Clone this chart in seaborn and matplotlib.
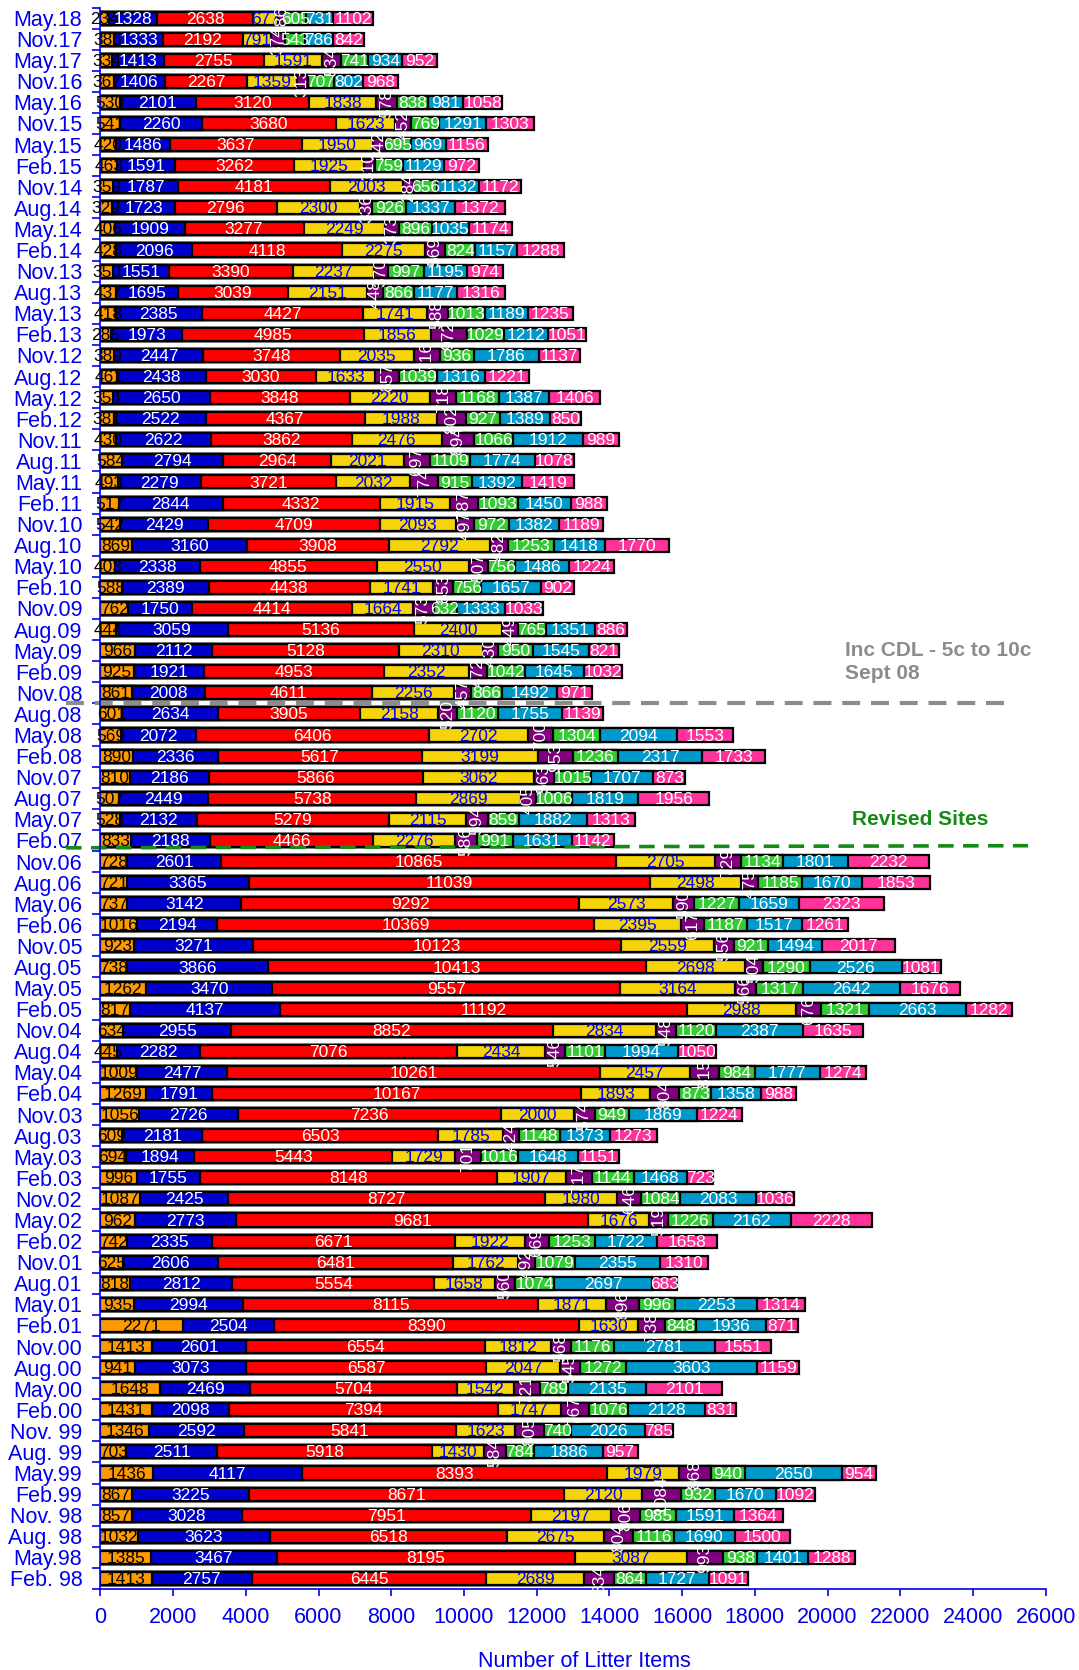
import matplotlib
matplotlib.use("Agg")
import matplotlib.pyplot as plt
import pandas as pd
import seaborn as sns

# survey dates, top row first
dates = ["May.18", "Nov.17", "May.17", "Nov.16", "May.16", "Nov.15", "May.15", "Feb.15", "Nov.14", "Aug.14",
         "May.14", "Feb.14", "Nov.13", "Aug.13", "May.13", "Feb.13", "Nov.12", "Aug.12", "May.12", "Feb.12",
         "Nov.11", "Aug.11", "May.11", "Feb.11", "Nov.10", "Aug.10", "May.10", "Feb.10", "Nov.09", "Aug.09",
         "May.09", "Feb.09", "Nov.08", "Aug.08", "May.08", "Feb.08", "Nov.07", "Aug.07", "May.07", "Feb.07",
         "Nov.06", "Aug.06", "May.06", "Feb.06", "Nov.05", "Aug.05", "May.05", "Feb.05", "Nov.04", "Aug.04",
         "May.04", "Feb.04", "Nov.03", "Aug.03", "May.03", "Feb.03", "Nov.02", "May.02", "Feb.02", "Nov.01",
         "Aug.01", "May.01", "Feb.01", "Nov.00", "Aug.00", "May.00", "Feb.00", "Nov. 99", "Aug. 99", "May.99",
         "Feb.99", "Nov. 98", "Aug. 98", "May.98", "Feb. 98"]

orange = [234, 386, 334, 367, 530, 541, 420, 463, 359, 329,
          406, 428, 350, 437, 418, 285, 389, 461, 354, 381,
          430, 584, 493, 517, 542, 869, 403, 588, 762, 444,
          966, 925, 861, 601, 569, 890, 810, 507, 528, 833,
          728, 721, 737, 1016, 923, 738, 1262, 817, 634, 445,
          1009, 1269, 1056, 609, 694, 996, 1087, 962, 742, 625,
          818, 935, 2271, 1413, 941, 1648, 1431, 1346, 703, 1436,
          867, 857, 1032, 1385, 1413]
blue = [1328, 1333, 1413, 1406, 2101, 2260, 1486, 1591, 1787, 1723,
        1909, 2096, 1551, 1695, 2385, 1973, 2447, 2438, 2650, 2522,
        2622, 2794, 2279, 2844, 2429, 3160, 2338, 2389, 1750, 3059,
        2112, 1921, 2008, 2634, 2072, 2336, 2186, 2449, 2132, 2188,
        2601, 3365, 3142, 2194, 3271, 3866, 3470, 4137, 2955, 2282,
        2477, 1791, 2726, 2181, 1894, 1755, 2425, 2773, 2335, 2606,
        2812, 2994, 2504, 2601, 3073, 2469, 2098, 2592, 2511, 4117,
        3225, 3028, 3623, 3467, 2757]
red = [2638, 2192, 2755, 2267, 3120, 3680, 3637, 3262, 4181, 2796,
       3277, 4118, 3390, 3039, 4427, 4985, 3748, 3030, 3848, 4367,
       3862, 2964, 3721, 4332, 4709, 3908, 4855, 4438, 4414, 5136,
       5128, 4953, 4611, 3905, 6406, 5617, 5866, 5738, 5279, 4466,
       10865, 11039, 9292, 10369, 10123, 10413, 9557, 11192, 8852, 7076,
       10261, 10167, 7236, 6503, 5443, 8148, 8727, 9681, 6671, 6481,
       5554, 8115, 8390, 6554, 6587, 5704, 7394, 5841, 5918, 8393,
       8671, 7951, 6518, 8195, 6445]
yellow = [677, 791, 1591, 1359, 1838, 1623, 1950, 1925, 2003, 2300,
          2249, 2275, 2237, 2151, 1741, 1856, 2035, 1633, 2220, 1988,
          2476, 2021, 2032, 1915, 2093, 2792, 2550, 1741, 1664, 2400,
          2310, 2352, 2256, 2158, 2702, 3199, 3062, 2869, 2115, 2276,
          2705, 2498, 2573, 2395, 2559, 2698, 3164, 2988, 2834, 2434,
          2457, 1893, 2000, 1785, 1729, 1907, 1980, 1676, 1922, 1762,
          1658, 1871, 1630, 1812, 2047, 1542, 1747, 1623, 1430, 1979,
          2120, 2197, 2675, 3087, 2689]
purple = [186, 374, 534, 313, 578, 452, 342, 310, 284, 336,
          373, 569, 370, 448, 588, 972, 716, 657, 718, 802,
          894, 697, 774, 787, 497, 482, 507, 553, 573, 449,
          430, 472, 457, 520, 700, 953, 563, 405, 594, 586,
          729, 475, 590, 617, 556, 504, 566, 676, 548, 546,
          815, 804, 574, 424, 701, 717, 646, 519, 669, 492,
          560, 896, 738, 568, 545, 721, 767, 805, 584, 868,
          1084, 806, 804, 993, 834]
green = [605, 543, 741, 707, 838, 769, 695, 759, 656, 926,
         896, 824, 997, 866, 1013, 1029, 936, 1039, 1168, 927,
         1066, 1109, 915, 1093, 972, 1253, 756, 756, 632, 765,
         950, 1042, 866, 1120, 1304, 1236, 1015, 1006, 859, 991,
         1134, 1185, 1227, 1187, 921, 1290, 1317, 1321, 1120, 1101,
         984, 873, 949, 1148, 1016, 1144, 1084, 1226, 1253, 1079,
         1074, 996, 848, 1176, 1272, 789, 1076, 740, 784, 940,
         932, 985, 1116, 938, 864]
cyan = [731, 786, 934, 802, 981, 1291, 969, 1129, 1132, 1337,
        1035, 1157, 1195, 1177, 1189, 1212, 1786, 1316, 1387, 1389,
        1912, 1774, 1392, 1450, 1382, 1418, 1486, 1657, 1333, 1351,
        1545, 1645, 1492, 1755, 2094, 2317, 1707, 1819, 1882, 1631,
        1801, 1670, 1659, 1517, 1494, 2526, 2642, 2663, 2387, 1994,
        1777, 1358, 1869, 1373, 1648, 1468, 2083, 2162, 1722, 2355,
        2697, 2253, 1936, 2781, 3603, 2135, 2128, 2026, 1886, 2650,
        1670, 1591, 1690, 1401, 1727]
pink = [1102, 842, 952, 968, 1058, 1303, 1156, 972, 1172, 1372,
        1174, 1288, 974, 1316, 1235, 1051, 1137, 1221, 1406, 850,
        989, 1078, 1419, 988, 1189, 1770, 1224, 902, 1033, 886,
        821, 1032, 971, 1139, 1553, 1733, 873, 1956, 1313, 1142,
        2232, 1853, 2323, 1261, 2017, 1081, 1676, 1282, 1635, 1050,
        1274, 988, 1224, 1273, 1151, 723, 1036, 2228, 1658, 1310,
        683, 1314, 871, 1551, 1159, 2101, 831, 785, 957, 954,
        1092, 1364, 1500, 1288, 1091]

segments = ['orange', 'blue', 'red', 'yellow', 'purple', 'green', 'cyan', 'pink']
fills = {'orange': '#FF9900', 'blue': '#0000CC', 'red': '#FF0000', 'yellow': '#F5D50A',
         'purple': '#800080', 'green': '#33CC33', 'cyan': '#0099CC', 'pink': '#FF3399'}
text_cols = {'orange': 'black', 'blue': 'white', 'red': 'white', 'yellow': '#0000FF',
             'purple': 'white', 'green': 'white', 'cyan': 'white', 'pink': 'white'}

df = pd.DataFrame({'date': dates, 'orange': orange, 'blue': blue, 'red': red, 'yellow': yellow,
                   'purple': purple, 'green': green, 'cyan': cyan, 'pink': pink})
cum = df[segments].cumsum(axis=1)

sns.set_style("white")
plt.rcParams['font.family'] = ['Liberation Sans', 'DejaVu Sans']
axis_blue = '#0000EE'

fig = plt.figure(figsize=(10.79, 16.70), dpi=100)
ax = fig.add_axes([0.093, 0.0485, 0.8762, 0.947])

# stacked bars: draw cumulative totals longest first so shorter ones sit on top
for seg in reversed(segments):
    sns.barplot(x=cum[seg], y=df['date'], order=dates, orient='h', color=fills[seg],
                saturation=1, edgecolor='black', linewidth=1.6, width=0.62,
                errorbar=None, ax=ax)

for i in range(len(dates)):
    for seg in segments:
        v = df[seg][i]
        mid = cum[seg][i] - v / 2
        ax.text(mid, i + 0.05, str(v), ha='center', va='center', fontsize=12.5,
                color=text_cols[seg], rotation=90 if seg == 'purple' else 0)

ax.set_xlim(0, 26000)
ax.set_ylim(len(dates) - 1 + 0.43, -0.43)
ax.set_xticks(range(0, 26001, 2000))
ax.set_yticks(range(len(dates)))
ax.set_yticklabels(dates)
ax.set_yticks([i + 0.5 for i in range(-1, len(dates))], minor=True)
ax.tick_params(axis='y', which='major', length=0, pad=13, labelsize=15.5, labelcolor=axis_blue)
ax.tick_params(axis='y', which='minor', length=6, width=1.2, color=axis_blue, direction='out', left=True)
ax.tick_params(axis='x', length=5, width=1.2, color=axis_blue, direction='out', bottom=True,
               pad=8, labelsize=15.5, labelcolor=axis_blue)
ax.set_ylabel('')
ax.set_xlabel('Number of Litter Items', fontsize=15.5, color=axis_blue)
ax.xaxis.set_label_coords(0.5116, -0.039)

for side in ['top', 'right']:
    ax.spines[side].set_visible(False)
for side in ['left', 'bottom']:
    ax.spines[side].set_color(axis_blue)
    ax.spines[side].set_linewidth(1.2)

# event markers
ax.plot([-943, 24909], [32.5, 32.5], color='#8C8C8C', lw=3, ls=(0, (4.3, 2.6)), clip_on=False)
ax.text(20481, 30.0, 'Inc CDL - 5c to 10c', color='#8C8C8C', fontweight='bold', fontsize=15,
        ha='left', va='center')
ax.text(20481, 31.07, 'Sept 08', color='#8C8C8C', fontweight='bold', fontsize=15,
        ha='left', va='center')
ax.plot([-943, 25514], [39.35, 39.25], color='#168A16', lw=2.6, ls=(0, (4.3, 2.6)), clip_on=False)
ax.text(20674, 38.0, 'Revised Sites', color='#168A16', fontweight='bold', fontsize=15,
        ha='left', va='center')

fig.savefig('out.png', dpi=100)
